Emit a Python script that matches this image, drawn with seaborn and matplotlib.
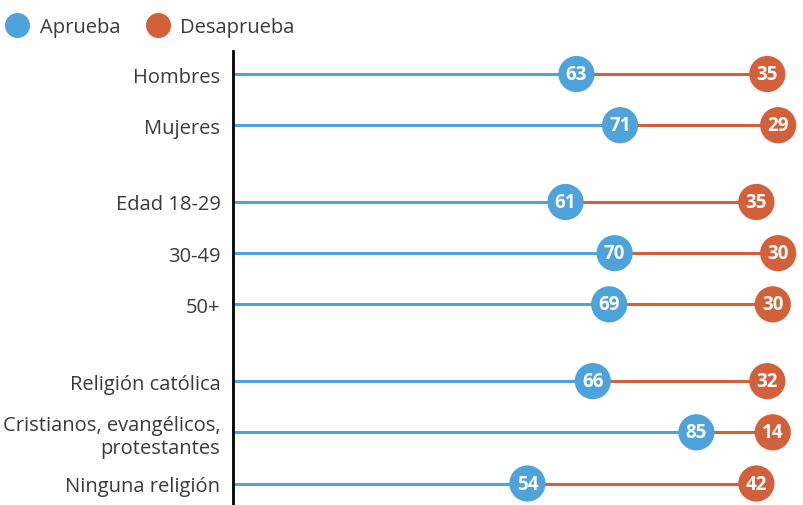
import numpy as np
import pandas as pd
import seaborn as sns
import matplotlib.pyplot as plt
from matplotlib.lines import Line2D

groups = ['Hombres', 'Mujeres', 'Edad 18-29', '30-49', '50+',
          'Religión católica', 'Cristianos, evangélicos,\nprotestantes',
          'Ninguna religión']
aprueba = [63, 71, 61, 70, 69, 66, 85, 54]
desaprueba = [35, 29, 35, 30, 30, 32, 14, 42]
row_pos = [0, 1, 2.5, 3.5, 4.5, 6, 7, 8]

blue = '#4fa3db'
orange = '#d2603a'

df = pd.DataFrame({'grupo': groups, 'Aprueba': aprueba,
                   'Desaprueba': desaprueba, 'pos': row_pos})
df['fin'] = df['Aprueba'] + df['Desaprueba']

sns.set_style('white')
plt.rcParams['font.family'] = ['Open Sans', 'DejaVu Sans']

fig = plt.figure(figsize=(8.04, 5.06), dpi=100)
ax = fig.add_axes([233 / 804, 0, 567 / 804, 454 / 506])

ax.hlines(df['pos'], 0, df['Aprueba'], color=blue, lw=2.2, zorder=1)
ax.hlines(df['pos'], df['Aprueba'], df['fin'], color=orange, lw=2.2, zorder=1)

sns.scatterplot(x='Aprueba', y='pos', data=df, ax=ax, color=blue, s=680,
                edgecolor='none', zorder=3, legend=False)
sns.scatterplot(x='fin', y='pos', data=df, ax=ax, color=orange, s=680,
                edgecolor='none', zorder=3, legend=False)

for _, r in df.iterrows():
    ax.text(r['Aprueba'], r['pos'], str(r['Aprueba']), color='white',
            fontsize=13.5, fontweight='bold', ha='center', va='center', zorder=4)
    ax.text(r['fin'], r['pos'], str(r['Desaprueba']), color='white',
            fontsize=13.5, fontweight='bold', ha='center', va='center', zorder=4)

ax.set_xlim(0, 104)
ax.set_ylim(8.42, -0.45)
ax.set_yticks(row_pos)
ax.set_yticklabels(groups, fontsize=14.5, color='#3a3a3a', ha='right',
                   linespacing=1.2)
ax.tick_params(axis='y', length=0, pad=9)
ax.set_xticks([])
ax.set_xlabel('')
ax.set_ylabel('')
for s in ['top', 'right', 'bottom']:
    ax.spines[s].set_visible(False)
ax.spines['left'].set_color('black')
ax.spines['left'].set_linewidth(2)

handles = [Line2D([], [], marker='o', ls='', color=blue, markersize=17, label='Aprueba'),
           Line2D([], [], marker='o', ls='', color=orange, markersize=17, label='Desaprueba')]
fig.legend(handles=handles, loc='upper left', bbox_to_anchor=(-0.026, 1.0),
           ncol=2, frameon=False, fontsize=14.5, handletextpad=0.1,
           columnspacing=0.9, labelcolor='#3a3a3a')

fig.savefig('out.png', dpi=100)
